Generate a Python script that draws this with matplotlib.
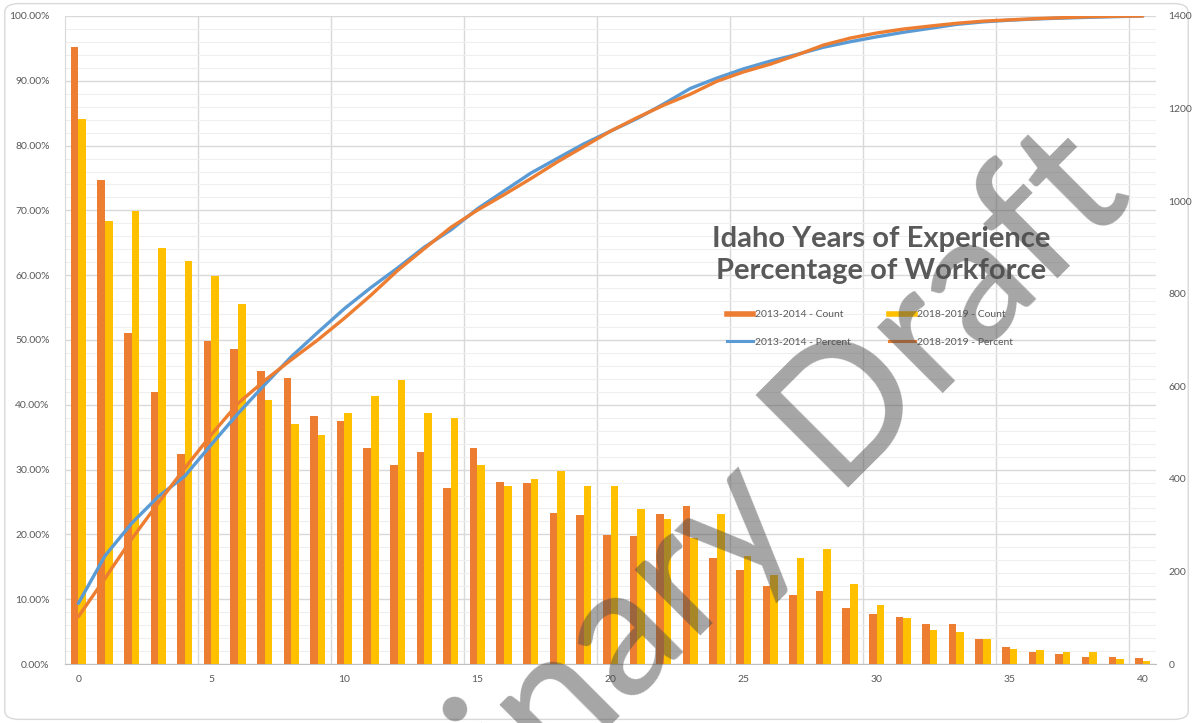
import matplotlib
matplotlib.use("Agg")
import matplotlib.pyplot as plt
from matplotlib.ticker import PercentFormatter, MultipleLocator, FixedLocator
from matplotlib.lines import Line2D
from matplotlib.patches import FancyBboxPatch

plt.rcParams['font.family'] = ['Lato', 'DejaVu Sans']

# Years of experience (category axis)
years = list(range(41))

# Number of employees at each year of experience
count_2013 = [1334, 1046, 716, 588, 453, 698, 680, 633, 617, 536,
              524, 466, 430, 457, 380, 466, 393, 390, 326, 321,
              279, 277, 323, 341, 228, 203, 169, 148, 158, 121,
              108, 101, 87, 87, 55, 37, 27, 21, 16, 15, 14]
count_2018 = [1178, 958, 979, 898, 871, 838, 778, 570, 518, 495,
              542, 578, 614, 542, 532, 430, 385, 399, 417, 385,
              385, 335, 313, 273, 323, 233, 192, 228, 249, 173,
              128, 99, 74, 69, 54, 32, 30, 25, 25, 10, 7]

# Cumulative percentage of the workforce
pct_2013 = [9.35, 16.68, 21.70, 25.82, 28.99, 33.88, 38.65, 43.09, 47.41, 51.17,
            54.84, 58.10, 61.12, 64.32, 66.98, 70.25, 73.00, 75.74, 78.02, 80.27,
            82.23, 84.17, 86.43, 88.82, 90.42, 91.84, 93.03, 94.06, 95.17, 96.02,
            96.78, 97.48, 98.09, 98.70, 99.09, 99.35, 99.54, 99.68, 99.80, 99.90, 100.0]
pct_2018 = [7.29, 13.21, 19.27, 24.83, 30.22, 35.40, 40.21, 43.74, 46.94, 50.01,
            53.36, 56.93, 60.73, 64.09, 67.38, 70.04, 72.42, 74.89, 77.47, 79.85,
            82.23, 84.31, 86.24, 87.93, 89.93, 91.37, 92.56, 93.97, 95.51, 96.58,
            97.37, 97.98, 98.44, 98.87, 99.20, 99.40, 99.59, 99.74, 99.89, 99.96, 100.0]

x_tick_labels = [str(v) for v in range(0, 41, 5)]

ORANGE = '#ED7D31'
YELLOW = '#FFC000'
BLUE = '#5B9BD5'
TXT = '#595959'

fig = plt.figure(figsize=(11.93, 7.23), dpi=100)

# chart-area outline
fig.patches.append(FancyBboxPatch((0.004, 0.005), 0.992, 0.99,
                                  boxstyle="round,pad=0,rounding_size=0.012",
                                  transform=fig.transFigure, facecolor='white',
                                  edgecolor='#D9D9D9', linewidth=1.0, zorder=-10))

rect = [0.0545, 0.0816, 0.9145, 0.8963]

# back axes: percent scale on the left, gridlines, category axis
ax = fig.add_axes(rect)
ax.set_xlim(-0.5, 40.5)
ax.set_ylim(0, 100)
ax.yaxis.set_major_locator(MultipleLocator(10))
ax.yaxis.set_minor_locator(MultipleLocator(2))
ax.yaxis.set_major_formatter(PercentFormatter(xmax=100, decimals=2))
ax.grid(True, which='major', axis='y', color='#D9D9D9', linewidth=1.0)
ax.grid(True, which='minor', axis='y', color='#EFEFEF', linewidth=0.8)
ax.xaxis.set_major_locator(FixedLocator(list(range(0, 41, 5))))
ax.set_xticklabels(x_tick_labels)
ax.xaxis.set_minor_locator(FixedLocator([v + 4.5 for v in range(0, 36, 5)]))
ax.grid(True, which='minor', axis='x', color='#D9D9D9', linewidth=1.0)
ax.tick_params(axis='both', which='both', length=0, colors=TXT, labelsize=7.5)
ax.tick_params(axis='y', pad=11)
ax.tick_params(axis='x', pad=8)
for side in ('top', 'right'):
    ax.spines[side].set_visible(False)
ax.spines['left'].set_color('#D9D9D9')
ax.spines['bottom'].set_color('#BFBFBF')
ax.set_axisbelow(True)

# count bars on the right-hand scale
axb = ax.twinx()
axb.set_ylim(0, 1400)
axb.yaxis.set_major_locator(MultipleLocator(200))
axb.tick_params(axis='y', length=0, colors=TXT, labelsize=7.5, pad=9)
for side in ('top', 'left', 'bottom', 'right'):
    axb.spines[side].set_visible(False)
w = 0.285
axb.bar([v - w / 2 for v in years], count_2013, width=w, color=ORANGE, linewidth=0)
axb.bar([v + w / 2 for v in years], count_2018, width=w, color=YELLOW, linewidth=0)

# cumulative percentage lines on top
axl = ax.twinx()
axl.set_ylim(0, 100)
axl.yaxis.set_visible(False)
for side in ('top', 'left', 'bottom', 'right'):
    axl.spines[side].set_visible(False)
axl.plot(years, pct_2013, color=BLUE, linewidth=2.4, solid_capstyle='round')
axl.plot(years, pct_2018, color=ORANGE, linewidth=2.4, solid_capstyle='round')
axl.set_xlim(-0.5, 40.5)

# title inside the plot
fig.text(881 / 1193, 1 - 255 / 723, "Idaho Years of Experience\nPercentage of Workforce",
         ha='center', va='center', fontsize=21, fontweight='bold', color=TXT,
         linespacing=1.3, zorder=5)

handles = [Line2D([], [], color=ORANGE, linewidth=4),
           Line2D([], [], color=BLUE, linewidth=2.2),
           Line2D([], [], color=YELLOW, linewidth=4),
           Line2D([], [], color=ORANGE, linewidth=2.2)]
labels = ['2013-2014 - Count', '2013-2014 - Percent',
          '2018-2019 - Count', '2018-2019 - Percent']
fig.legend(handles, labels, ncol=2, frameon=False, fontsize=7.5,
           labelcolor=TXT, loc='upper left',
           bbox_to_anchor=(727 / 1193, 1 - 310 / 723),
           handlelength=2.5, handletextpad=0.2, columnspacing=3.6,
           labelspacing=1.75, borderpad=0, borderaxespad=0)

# watermark
fig.text(1136 / 1193, 1 - 200 / 723, "Preliminary Draft", rotation=45,
         rotation_mode='anchor', ha='right', va='baseline',
         family=['Lato', 'DejaVu Sans'], fontweight='medium',
         fontsize=130, color='#4D4D4D', alpha=0.5, zorder=20)

fig.savefig("out.png", dpi=100)
